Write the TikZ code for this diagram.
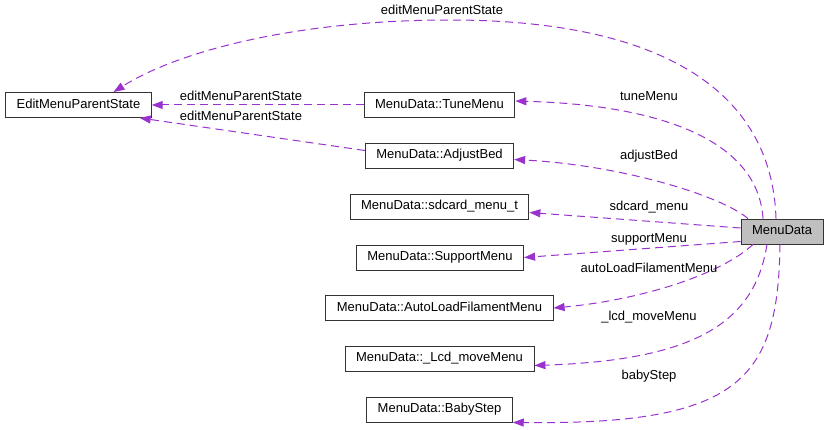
\documentclass[tikz,border=0pt]{standalone}
\usepackage{fontspec}
\setmainfont{Liberation Sans}
\usetikzlibrary{arrows.meta}
\definecolor{edgepurple}{HTML}{9A32CD}
\definecolor{boxgray}{HTML}{BFBFBF}

\begin{document}
\begin{tikzpicture}[x=1pt, y=-1pt, >={Triangle[length=11pt,width=8pt]},
    classbox/.style={draw=black!80, line width=0.9pt, rectangle, inner xsep=11pt, inner ysep=0pt,
        minimum height=25pt, text height=9.5pt, text depth=2.7pt, font=\fontsize{13}{15}\selectfont},
    member/.style={->, draw=edgepurple, line width=1pt, dash pattern=on 8pt off 5pt},
    memberlabel/.style={inner sep=0pt, font=\fontsize{13}{15}\selectfont}]
    \useasboundingbox (0,0) rectangle (829,430);

    % Classes
    \node[classbox] (emps) at (78.5,105) {EditMenuParentState};
    \node[classbox] (tune) at (439.5,105) {MenuData::TuneMenu};
    \node[classbox] (adjust) at (439.5,155.5) {MenuData::AdjustBed};
    \node[classbox] (sdcard) at (439.5,206.5) {MenuData::sdcard\_menu\_t};
    \node[classbox] (support) at (440,257.5) {MenuData::SupportMenu};
    \node[classbox] (autoload) at (439.5,308) {MenuData::AutoLoadFilamentMenu};
    \node[classbox] (lcd) at (439.5,358.5) {MenuData::\_Lcd\_moveMenu};
    \node[classbox] (baby) at (439.5,409.5) {MenuData::BabyStep};
    \node[classbox, fill=boxgray] (md) at (782,231.5) {MenuData};

    % Members of EditMenuParentState
    \draw[member] ([xshift=-6pt]md.north) .. controls (772,90) and (660,20) .. (450,20)
        .. controls (300,20) and (180,50) .. ([xshift=35pt]emps.north);
    \draw[member] (tune.west) -- (emps.east);
    \draw[member] ([yshift=5pt]adjust.west) -- ([xshift=-12pt]emps.south east);

    % Members of MenuData
    \draw[member] ([xshift=-19pt]md.north) .. controls (758,140) and (660,105) .. ([yshift=4pt]tune.east);
    \draw[member] ([xshift=-34pt]md.north) .. controls (720,195) and (620,165) .. ([yshift=-4pt]adjust.east);
    \draw[member] ([yshift=3.5pt]md.west) -- ([yshift=-6pt]sdcard.east);
    \draw[member] ([yshift=-10pt]md.west) -- (support.east);
    \draw[member] ([xshift=-29pt]md.south) .. controls (720,275) and (640,300) .. (autoload.east);
    \draw[member] ([xshift=-15pt]md.south) .. controls (755,320) and (700,360) .. ([yshift=-7pt]lcd.east);
    \draw[member] ([xshift=-2pt]md.south) .. controls (778,380) and (740,425) .. (baby.south east);

    % Labels
    \node[memberlabel] (l1) at (442,10) {editMenuParentState};
    \node[memberlabel] (l2) at (241,96) {editMenuParentState};
    \node[memberlabel] (l3) at (241,116) {editMenuParentState};
    \node[memberlabel] (l4) at (649,96) {tuneMenu};
    \node[memberlabel] (l5) at (649,156) {adjustBed};
    \node[memberlabel] (l6) at (649,207) {sdcard\_menu};
    \node[memberlabel] (l7) at (649,239) {supportMenu};
    \node[memberlabel] (l8) at (649,268) {autoLoadFilamentMenu};
    \node[memberlabel] (l9) at (649,317) {\_lcd\_moveMenu};
    \node[memberlabel] (l10) at (649,376) {babyStep};
\end{tikzpicture}
\end{document}
